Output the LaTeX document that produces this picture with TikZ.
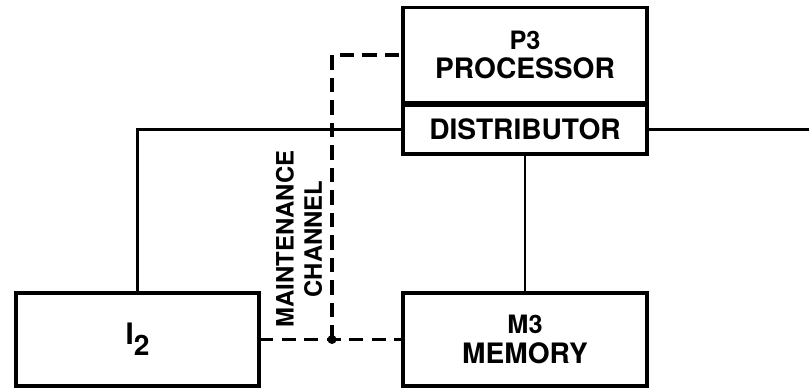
\documentclass[tikz,border=0pt]{standalone}
\usepackage{fontspec}
\setmainfont{TeX Gyre Heros}
\usetikzlibrary{calc,positioning}

\begin{document}
\begin{tikzpicture}[x=0.025cm,y=-0.025cm,
  box/.style={draw,line width=2.6pt,rectangle,inner sep=0pt,outer sep=0pt,align=center,font=\bfseries},
  link/.style={line width=1.8pt},
  maint/.style={line width=2.4pt,dash pattern=on 10pt off 6pt}]
\useasboundingbox (0,0) rectangle (809,389);
% blocks
\node[box,minimum width=6.1cm,minimum height=2.375cm,font=\bfseries\fontsize{20}{20}\selectfont] (proc) at (525,55)
  {\fontsize{18}{18}\selectfont P3\\[1pt]\fontsize{20}{20}\selectfont PROCESSOR};
\node[box,minimum width=6.1cm,minimum height=1.225cm,font=\bfseries\fontsize{20}{22}\selectfont] (dist) at (525,129.5) {DISTRIBUTOR};
\node[box,minimum width=6.075cm,minimum height=2.325cm,font=\bfseries\fontsize{21}{18}\selectfont] (io) at (137.5,339.5)
  {I\raisebox{-8pt}{\fontsize{20}{20}\selectfont 2}};
\node[box,minimum width=6.1cm,minimum height=2.325cm,font=\bfseries\fontsize{20}{20}\selectfont] (mem) at (525,339.5)
  {\fontsize{18}{18}\selectfont M3\\[1pt]\fontsize{20}{20}\selectfont MEMORY};
% bus
\coordinate (out) at (809,129.5);
\draw[link] (dist.west) -| (io.north);
\draw[link] (dist.east) -- (out);
\draw[line width=1.4pt] (dist.south) -- (mem.north);
% maintenance channel
\coordinate (jn) at (332,339.5);
\draw[maint] (io.east) -- (mem.west);
\draw[maint] (jn) |- (proc.west);
\fill (jn) circle (4.5);
\node[rotate=90,align=center,font=\bfseries\fontsize{17}{20}\selectfont] (mlabel) at (299,239) {MAINTENANCE\\CHANNEL};
\end{tikzpicture}
\end{document}
